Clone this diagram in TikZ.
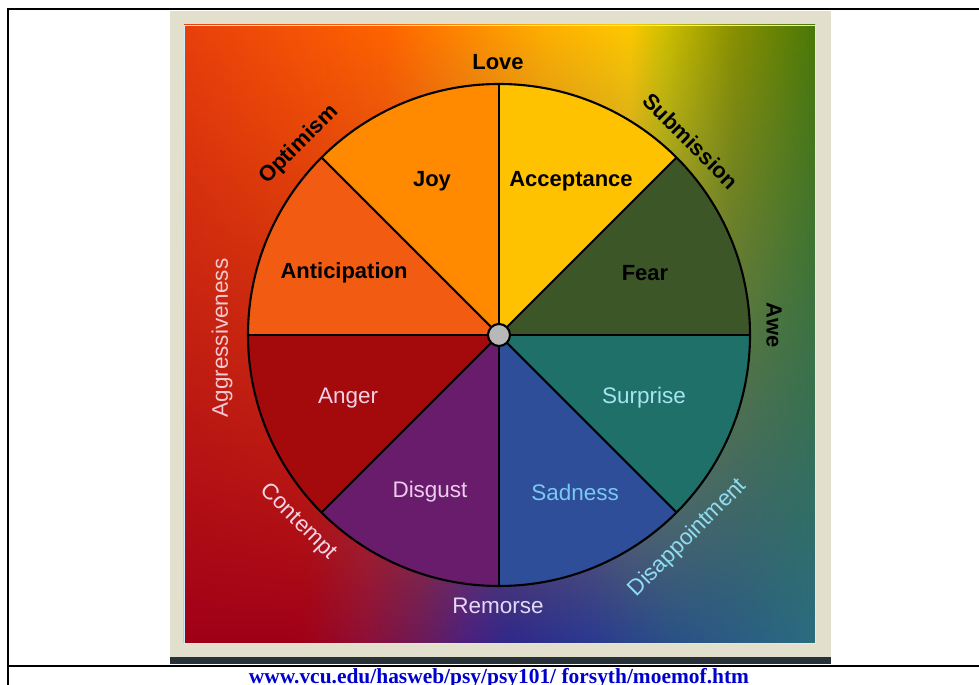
\documentclass[tikz,border=0pt]{standalone}
\usepackage{fontspec}
\usepackage{tikz}
\usetikzlibrary{fadings}
\newfontfamily\wheelfont{Liberation Sans}
\newfontfamily\linkfont{Liberation Serif}

% 扇区颜色
\definecolor{joy}{HTML}{FF8A00}
\definecolor{acceptance}{HTML}{FFC200}
\definecolor{fear}{HTML}{3C5628}
\definecolor{surprise}{HTML}{1E7068}
\definecolor{sadness}{HTML}{2E4E9A}
\definecolor{disgust}{HTML}{6A1C6C}
\definecolor{anger}{HTML}{A40A0C}
\definecolor{anticipation}{HTML}{F25C12}
% 浅色文字
\definecolor{angerText}{HTML}{F4D0E4}
\definecolor{disgustText}{HTML}{ECCCEC}
\definecolor{sadnessText}{HTML}{78C8F0}
\definecolor{surpriseText}{HTML}{A8E4F0}
\definecolor{disappointText}{HTML}{90DCF0}
\definecolor{remorseText}{HTML}{E4D8F4}
\definecolor{contemptText}{HTML}{F8D4E4}
\definecolor{aggressText}{HTML}{F4C8D0}
% 背景渐变
\definecolor{bgTopA}{HTML}{E8400C}
\definecolor{bgTopB}{HTML}{FF6400}
\definecolor{bgTopC}{HTML}{FFB000}
\definecolor{bgTopD}{HTML}{FFC800}
\definecolor{bgTopE}{HTML}{D0C000}
\definecolor{bgTopF}{HTML}{8A9000}
\definecolor{bgTopG}{HTML}{4A7808}
\definecolor{bgBotA}{HTML}{A00018}
\definecolor{bgBotB}{HTML}{8C1038}
\definecolor{bgBotC}{HTML}{6A1A5A}
\definecolor{bgBotD}{HTML}{4A2080}
\definecolor{bgBotE}{HTML}{30288A}
\definecolor{bgBotF}{HTML}{2A3890}
\definecolor{bgBotG}{HTML}{2A5088}
\definecolor{bgBotH}{HTML}{2A6C80}
\definecolor{frameGray}{HTML}{E2DFCC}
\definecolor{frameDark}{HTML}{283038}
\definecolor{linkBlue}{HTML}{0000CC}

\pgfdeclarehorizontalshading{topband}{100bp}{%
  color(0bp)=(bgTopA); color(25bp)=(bgTopA); color(41bp)=(bgTopB);
  color(53.75bp)=(bgTopC); color(60.25bp)=(bgTopD); color(63bp)=(bgTopE);
  color(68.5bp)=(bgTopF); color(75bp)=(bgTopG); color(100bp)=(bgTopG)}
\pgfdeclarehorizontalshading{bottomband}{100bp}{%
  color(0bp)=(bgBotA); color(34.5bp)=(bgBotA); color(39.5bp)=(bgBotB);
  color(44bp)=(bgBotC); color(47.5bp)=(bgBotD); color(50.5bp)=(bgBotE);
  color(57bp)=(bgBotF); color(63.5bp)=(bgBotG); color(75bp)=(bgBotH);
  color(100bp)=(bgBotH)}
\tikzfading[name=fade up, top color=transparent!100,
  middle color=transparent!50, bottom color=transparent!0]

\tikzset{
  wheel line/.style={
    draw=black,
    line width=1.2pt
  },
  hub dot/.style={
    circle,
    fill=black!28,
    draw=black,
    line width=1.2pt,
    inner sep=0pt,
    minimum size=0.44cm
  },
  dark label/.style={
    font=\wheelfont\bfseries\fontsize{12.5}{14}\selectfont,
    text=black
  },
  light label/.style={
    font=\wheelfont\fontsize{12.8}{14}\selectfont
  },
  web link/.style={
    font=\linkfont\bfseries\fontsize{12.2}{14}\selectfont,
    text=linkBlue
  }
}

\begin{document}
\begin{tikzpicture}[x=0.02cm, y=0.02cm]
    \useasboundingbox (0,0) rectangle (979,685);

    % 表格边框
    \draw[line width=1.2pt] (8,0) -- (8,676) -- (979,676);
    \draw[line width=1.2pt] (8,19) -- (979,19);

    % 图片边框
    \fill[frameGray] (170,22) rectangle (831,674);
    \fill[frameDark] (170,21) rectangle (831,28);

    % 背景渐变
    \shade[shading=topband] (184,42) rectangle (815,660);
    \shade[shading=bottomband, path fading=fade up] (184,42) rectangle (815,660);
    \draw[white!80!cyan, line width=0.5pt] (184,42) rectangle (815,660);

    % 八个扇区
    \coordinate (hub) at (499,350);
    \foreach \a/\col in {0/fear, 45/acceptance, 90/joy, 135/anticipation,
                         180/anger, 225/disgust, 270/sadness, 315/surprise} {
      \fill[\col] (hub) -- ++(\a:251) arc[start angle=\a, delta angle=45, radius=251] -- cycle;
    }
    \foreach \a in {0,45,...,315} {
      \coordinate (rim-\a) at ([shift={(\a:251)}]hub);
      \draw[wheel line] (hub) -- (rim-\a);
    }
    \draw[wheel line] (hub) circle[radius=251];
    \node[hub dot] (hubdot) at (hub) {};

    % 内圈文字
    \node[dark label] (joy) at (432,504) {Joy};
    \node[dark label] (acceptance) at (571,504) {Acceptance};
    \node[dark label] (anticipation) at (344,412) {Anticipation};
    \node[dark label] (fear) at (645,412) {Fear};
    \node[light label, text=angerText] (anger) at (348,287) {Anger};
    \node[light label, text=surpriseText] (surprise) at (644,287) {Surprise};
    \node[light label, text=disgustText] (disgust) at (430,193) {Disgust};
    \node[light label, text=sadnessText] (sadness) at (575,193) {Sadness};

    % 外圈文字
    \node[dark label] (love) at (498,623) {Love};
    \node[dark label, rotate=-45] (submission) at (691,544) {Submission};
    \node[dark label, rotate=-90] (awe) at (774,360) {Awe};
    \node[light label, text=disappointText, rotate=45] (disappointment) at (688,147) {Disappointment};
    \node[light label, text=remorseText] (remorse) at (498,79) {Remorse};
    \node[light label, text=contemptText, rotate=-45] (contempt) at (298,163) {Contempt};
    \node[light label, text=aggressText, rotate=90] (aggressiveness) at (222,347) {Aggressiveness};
    \node[dark label, rotate=45] (optimism) at (299,540) {Optimism};

    % 网址
    \node[web link, anchor=base] (link) at (499,1) {www.vcu.edu/hasweb/psy/psy101/ forsyth/moemof.htm};
\end{tikzpicture}
\end{document}
